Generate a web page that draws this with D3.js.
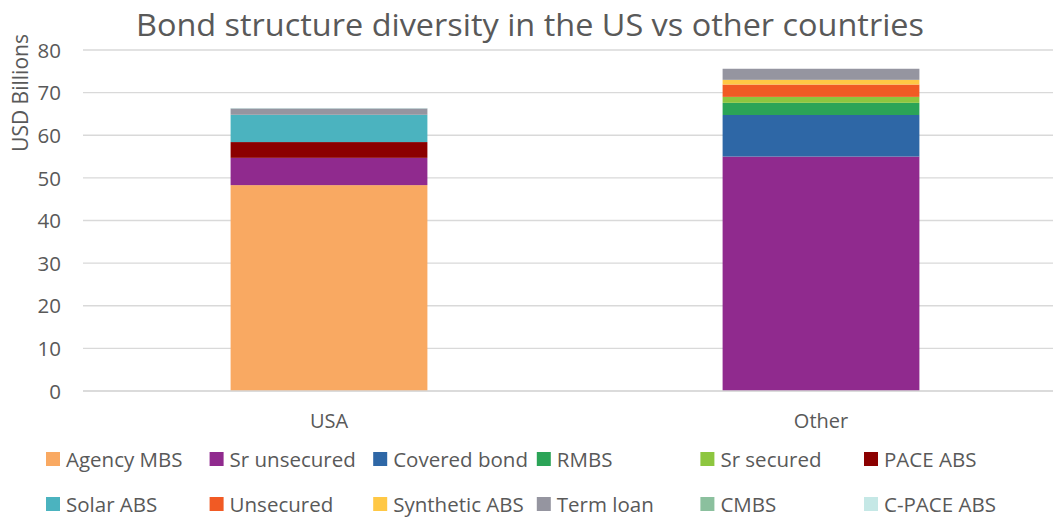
<!DOCTYPE html>
<html>
<head>
<meta charset="utf-8">
<script src="https://cdn.jsdelivr.net/npm/d3@7"></script>
<style>
  body { margin: 0; background: #fff; }
  svg { display: block; }
  text { font-family: "Open Sans", "DejaVu Sans", sans-serif; fill: #595959; }
</style>
</head>
<body>
<svg id="chart" width="1053" height="518"></svg>
<script>
const categories = ["USA", "Other"];
const seriesNames = ["Agency MBS", "Sr unsecured", "Covered bond", "RMBS", "Sr secured", "PACE ABS",
                     "Solar ABS", "Unsecured", "Synthetic ABS", "Term loan", "CMBS", "C-PACE ABS"];
const usaValues   = [48.3, 6.4, 0,    0,    0,   3.7, 6.4, 0,   0,   1.5, 0, 0.1];
const otherValues = [0,    55.0, 9.75, 2.85, 1.4, 0,   0,   2.9, 1.1, 2.6, 0, 0];
const seriesColors = ["#F9A962", "#902A8E", "#2E67A6", "#2BA457", "#8DC63F", "#8B0000",
                      "#4BB3BF", "#F15A24", "#FFC845", "#9595A0", "#8BC09E", "#C5E8E6"];
const yTicks = [0, 10, 20, 30, 40, 50, 60, 70, 80];

const rows = categories.map((c, i) => {
  const vals = i === 0 ? usaValues : otherValues;
  const r = { category: c };
  seriesNames.forEach((s, j) => r[s] = vals[j]);
  return r;
});

const svg = d3.select("#chart");
const x = d3.scaleBand().domain(categories).range([83, 1067]).paddingInner(0.6).paddingOuter(0.3);
const y = d3.scaleLinear().domain([0, 80]).range([391, 50]);
const color = d3.scaleOrdinal().domain(seriesNames).range(seriesColors);

// gridlines
svg.append("g").selectAll("line").data(yTicks).join("line")
  .attr("x1", 83).attr("x2", 1053)
  .attr("y1", d => y(d)).attr("y2", d => y(d))
  .attr("stroke", "#d9d9d9").attr("stroke-width", 1.3);

// y tick labels
const yAxis = d3.axisLeft(y).tickValues(yTicks).tickSize(0).tickPadding(0);
const yg = svg.append("g").attr("transform", "translate(61,0)").call(yAxis);
yg.select(".domain").remove();
yg.selectAll("text").style("font-size", "20.5px").attr("fill", "#595959").attr("dy", "0.35em");

// stacked bars
const stack = d3.stack().keys(seriesNames)(rows);
svg.append("g").selectAll("g").data(stack).join("g")
  .attr("fill", d => color(d.key))
  .selectAll("rect").data(d => d).join("rect")
  .attr("x", d => x(d.data.category))
  .attr("width", x.bandwidth())
  .attr("y", d => y(d[1]))
  .attr("height", d => y(d[0]) - y(d[1]));

// x axis
const xAxis = d3.axisBottom(x).tickSize(0).tickPadding(0);
const xg = svg.append("g").attr("transform", "translate(0,391)").call(xAxis);
xg.select(".domain").attr("stroke", "#d9d9d9").attr("stroke-width", 1.3).attr("d", "M83,0H1053");
xg.selectAll("text").style("font-size", "20px").attr("fill", "#595959").attr("y", 37).attr("dy", 0);

// title
svg.append("text").attr("x", 136).attr("y", 36)
  .attr("textLength", 788).attr("lengthAdjust", "spacingAndGlyphs")
  .style("font-size", "31px").text("Bond structure diversity in the US vs other countries");

// y axis title
svg.append("text").attr("transform", "translate(28,93) rotate(-90)")
  .attr("text-anchor", "middle").style("font-size", "21px").text("USD Billions");

// legend
const legend = svg.append("g");
const items = legend.selectAll("g").data(seriesNames).join("g")
  .attr("transform", (d, i) => `translate(${46 + (i % 6) * 163.6},${i < 6 ? 452 : 497})`);
items.append("rect").attr("width", 14).attr("height", 14).attr("fill", d => color(d));
items.append("text").attr("x", 20).attr("y", 14.5).style("font-size", "20.5px").text(d => d);
</script>
</body>
</html>
